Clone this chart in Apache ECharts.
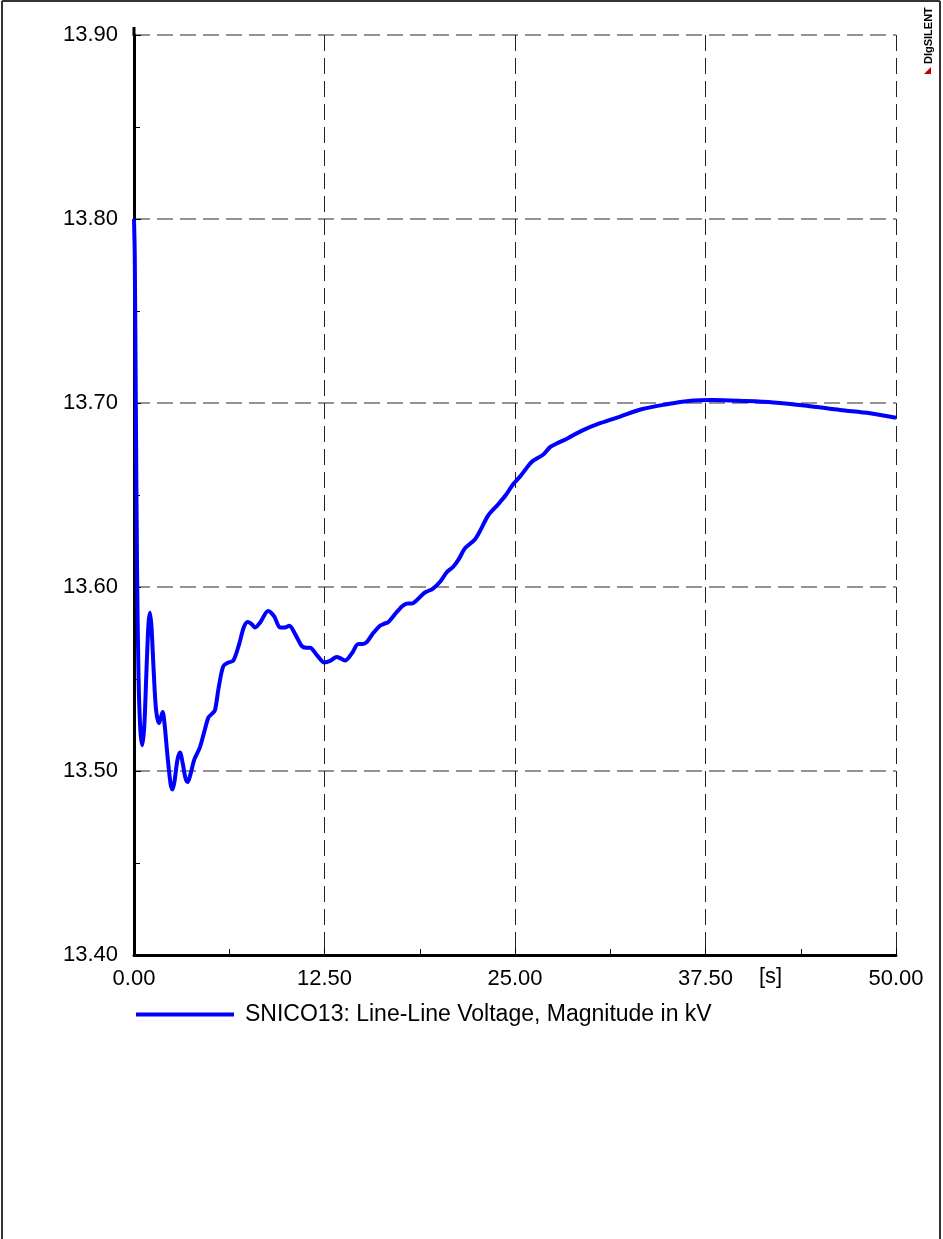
<!DOCTYPE html>
<html>
<head>
<meta charset="utf-8">
<script src="https://cdn.jsdelivr.net/npm/echarts@6/dist/echarts.min.js"></script>
<style>
  html, body { margin: 0; padding: 0; background: #fff; }
  #chart { width: 943px; height: 1239px; }
</style>
</head>
<body>
<div id="chart"></div>
<script>
// time axis [s]
const timeS = [
  0, 0.05, 0.12, 0.2, 0.3, 0.42, 0.55, 0.68, 0.82, 0.95, 1.05, 1.15, 1.3, 1.45, 1.64, 1.76, 1.88,
  2.0, 2.2, 2.4, 2.52, 2.65, 2.85, 3.02, 3.2, 3.38, 3.52, 3.7, 3.95, 4.33, 4.6, 4.88, 5.1, 5.31,
  5.55, 5.86, 6.2, 6.52, 6.9, 7.2, 7.45, 7.7, 7.94, 8.3, 8.8, 9.2, 9.58, 9.9, 10.19, 10.6, 11.0,
  11.3, 11.55, 12.0, 12.5, 12.9, 13.3, 13.6, 13.85, 14.3, 14.72, 15.0, 15.27, 15.7, 16.14, 16.4,
  16.69, 17.2, 17.67, 18.0, 18.22, 18.7, 19.09, 19.6, 20.1, 20.52, 20.95, 21.3, 21.72, 22.38,
  22.8, 23.25, 23.9, 24.4, 24.89, 25.33, 25.7, 26.1, 26.86, 27.3, 27.74, 28.5, 29.4, 30.58,
  31.9, 33.3, 34.95, 36.37, 38.0, 39.98, 41.95, 44.14, 46.33, 48.3, 50.0
]
// SNICO13 line-line voltage [kV]
const voltageKV = [
  13.800, 13.780, 13.700, 13.610, 13.550, 13.522, 13.514, 13.525, 13.555, 13.580, 13.586, 13.578,
  13.553, 13.533, 13.526, 13.529, 13.532, 13.526, 13.508, 13.493, 13.490, 13.494, 13.506, 13.510,
  13.504, 13.496, 13.494, 13.498, 13.506, 13.513, 13.521, 13.529, 13.531, 13.533, 13.545, 13.557,
  13.559, 13.560, 13.569, 13.578, 13.581, 13.580, 13.578, 13.581, 13.587, 13.584, 13.578, 13.578,
  13.579, 13.574, 13.568, 13.567, 13.567, 13.563, 13.559, 13.560, 13.562, 13.561, 13.560, 13.564,
  13.569, 13.569, 13.570, 13.575, 13.579, 13.580, 13.581, 13.586, 13.590, 13.591, 13.591, 13.594,
  13.597, 13.599, 13.603, 13.608, 13.611, 13.615, 13.621, 13.626, 13.632, 13.639, 13.645, 13.650,
  13.656, 13.660, 13.664, 13.668, 13.672, 13.676, 13.678, 13.681, 13.685, 13.689, 13.6926, 13.6966,
  13.6993, 13.7011, 13.7016, 13.7011, 13.7003, 13.6985, 13.6962, 13.6944, 13.692
]
const seriesName = 'SNICO13: Line-Line Voltage, Magnitude in kV'
const xTicks = { min: 0, max: 50, step: 12.5 }
const yTicks = { min: 13.4, max: 13.9, step: 0.1 }

const font = 'Liberation Sans, Arial, sans-serif'

const chart = echarts.init(document.getElementById('chart'))

chart.setOption({
  animation: false,
  backgroundColor: '#fff',
  grid: { left: 134, right: 47, top: 35, bottom: 284 },
  xAxis: {
    type: 'value',
    min: xTicks.min,
    max: xTicks.max,
    interval: xTicks.step,
    axisLine: { show: true, lineStyle: { color: '#000', width: 3 } },
    axisTick: { show: true, inside: true, length: 7, lineStyle: { color: '#000', width: 1 } },
    minorTick: { show: true, splitNumber: 2, length: 6, lineStyle: { color: '#000' } },
    axisLabel: {
      color: '#000', fontSize: 22, fontFamily: font, margin: 13,
      formatter: v => v.toFixed(2)
    },
    // vertical grid lines are darker in the original
    splitLine: { show: true, lineStyle: { color: '#222', type: [16, 7], width: 1 } }
  },
  yAxis: {
    type: 'value',
    min: yTicks.min,
    max: yTicks.max,
    interval: yTicks.step,
    axisLine: { show: true, onZero: false, lineStyle: { color: '#000', width: 3 } },
    axisTick: { show: true, inside: true, length: 7, lineStyle: { color: '#000', width: 1 } },
    minorTick: { show: true, splitNumber: 2, length: 6, lineStyle: { color: '#000' } },
    axisLabel: {
      color: '#000', fontSize: 22, fontFamily: font, margin: 16,
      formatter: v => v.toFixed(2)
    },
    splitLine: { show: true, lineStyle: { color: '#707070', type: [16, 7], width: 1.5 } }
  },
  legend: {
    left: 131,
    top: 998,
    icon: 'rect',
    itemWidth: 98,
    itemHeight: 4,
    textStyle: { color: '#000', fontSize: 23, fontFamily: font, padding: [0, 0, 0, 6] },
    data: [seriesName]
  },
  series: [
    {
      name: seriesName,
      type: 'line',
      data: timeS.map((t, i) => [t, voltageKV[i]]),
      showSymbol: false,
      smooth: 0.3,
      color: '#0000ff',
      lineStyle: { color: '#0000ff', width: 4 }
    }
  ],
  graphic: [
    // page frame
    { type: 'line', shape: { x1: 2, y1: 1, x2: 2, y2: 1239 }, style: { stroke: '#333', lineWidth: 2 } },
    { type: 'line', shape: { x1: 2, y1: 1, x2: 940, y2: 1 }, style: { stroke: '#333', lineWidth: 2 } },
    { type: 'line', shape: { x1: 940, y1: 1, x2: 940, y2: 1239 }, style: { stroke: '#333', lineWidth: 2 } },
    // y axis runs a little past the top of the plot
    { type: 'line', shape: { x1: 134, y1: 27, x2: 134, y2: 36 }, style: { stroke: '#000', lineWidth: 3 } },
    // unit label on x axis
    {
      type: 'text', left: 759, top: 966,
      style: { text: '[s]', fill: '#000', font: '22px ' + font }
    },
    // logo
    {
      type: 'text', x: 923, y: 64, rotation: Math.PI / 2,
      style: { text: 'DIgSILENT', fill: '#000', font: 'bold 11px ' + font, textVerticalAlign: 'top' }
    },
    {
      type: 'polygon',
      shape: { points: [[924, 74], [931, 74], [931, 67]] },
      style: { fill: '#c00000' }
    }
  ]
})
</script>
</body>
</html>
